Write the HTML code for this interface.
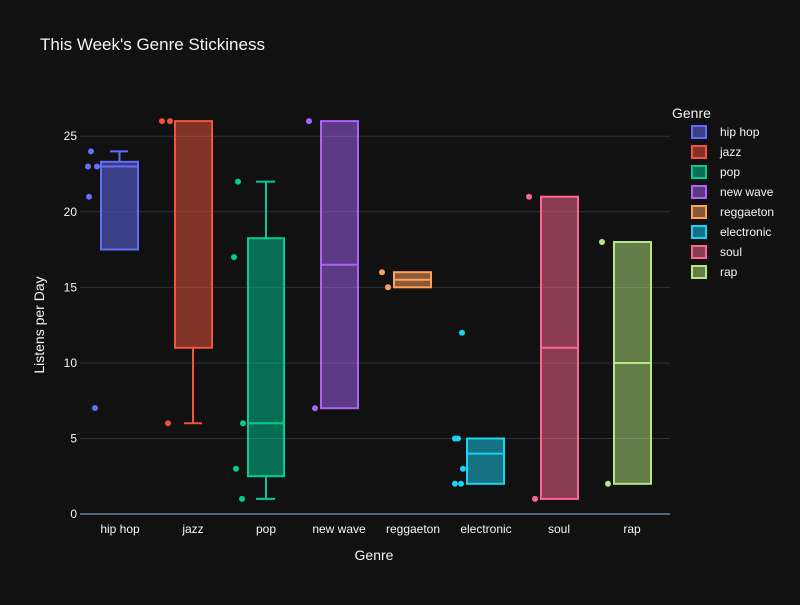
<!DOCTYPE html>
<html><head><meta charset="utf-8"><style>body{margin:0;background:#111}</style></head><body>
<svg width="800" height="600" xmlns="http://www.w3.org/2000/svg" font-family="Liberation Sans, sans-serif">
<rect width="800" height="600" fill="#111111"/>
<g stroke="#283442" stroke-width="1">
<line x1="80" x2="670" y1="438.5" y2="438.5"/>
<line x1="80" x2="670" y1="363" y2="363"/>
<line x1="80" x2="670" y1="287.4" y2="287.4"/>
<line x1="80" x2="670" y1="211.8" y2="211.8"/>
<line x1="80" x2="670" y1="136.2" y2="136.2"/>
</g>
<line x1="80" x2="670" y1="514" y2="514" stroke="#506784" stroke-width="2"/>
<g fill="#f2f5fa" font-size="12" text-anchor="end">
<text x="77" y="518">0</text><text x="77" y="442.5">5</text><text x="77" y="367">10</text>
<text x="77" y="291.4">15</text><text x="77" y="215.8">20</text><text x="77" y="140.2">25</text>
</g>
<g fill="#f2f5fa" font-size="12" text-anchor="middle">
<text x="120" y="533">hip hop</text><text x="193" y="533">jazz</text><text x="266" y="533">pop</text>
<text x="339" y="533">new wave</text><text x="413" y="533">reggaeton</text><text x="486" y="533">electronic</text>
<text x="559" y="533">soul</text><text x="632" y="533">rap</text>
</g>
<text x="40" y="50" fill="#f2f5fa" font-size="17">This Week's Genre Stickiness</text>
<text x="374" y="560" fill="#f2f5fa" font-size="14" text-anchor="middle">Genre</text>
<text transform="translate(44,325) rotate(-90)" fill="#f2f5fa" font-size="14" text-anchor="middle">Listens per Day</text>

<!-- hip hop -->
<g stroke="#636efa" stroke-width="2" fill="none">
<rect x="101" y="161.8" width="37" height="87.7" fill="#636efa" fill-opacity="0.5"/>
<line x1="101" x2="138" y1="166.5" y2="166.5"/>
<line x1="119.5" x2="119.5" y1="161.8" y2="151.4"/><line x1="110" x2="128" y1="151.4" y2="151.4"/>
</g>
<g fill="#636efa"><circle cx="91" cy="151.4" r="3"/><circle cx="88" cy="166.5" r="3"/><circle cx="97" cy="166.5" r="3"/><circle cx="89" cy="196.7" r="3"/><circle cx="95" cy="408" r="3"/></g>
<!-- jazz -->
<g stroke="#EF553B" stroke-width="2" fill="none">
<rect x="175" y="121.1" width="37" height="226.7" fill="#EF553B" fill-opacity="0.5"/>
<line x1="193" x2="193" y1="347.8" y2="423.3"/><line x1="184" x2="202" y1="423.3" y2="423.3"/>
</g>
<g fill="#EF553B"><circle cx="162" cy="121.1" r="3"/><circle cx="170" cy="121.1" r="3"/><circle cx="168" cy="423.3" r="3"/></g>
<!-- pop -->
<g stroke="#00cc96" stroke-width="2" fill="none">
<rect x="248" y="238.2" width="36" height="238" fill="#00cc96" fill-opacity="0.5"/>
<line x1="248" x2="284" y1="423.3" y2="423.3"/>
<line x1="266" x2="266" y1="238.2" y2="181.6"/><line x1="256" x2="275" y1="181.6" y2="181.6"/>
<line x1="266" x2="266" y1="476.2" y2="498.9"/><line x1="256" x2="275" y1="498.9" y2="498.9"/>
</g>
<g fill="#00cc96"><circle cx="238" cy="181.6" r="3"/><circle cx="234" cy="257.1" r="3"/><circle cx="243" cy="423.3" r="3"/><circle cx="236" cy="468.7" r="3"/><circle cx="242" cy="498.9" r="3"/></g>
<!-- new wave -->
<g stroke="#ab63fa" stroke-width="2" fill="none">
<rect x="321" y="121.1" width="37" height="287.1" fill="#ab63fa" fill-opacity="0.5"/>
<line x1="321" x2="358" y1="264.7" y2="264.7"/>
</g>
<g fill="#ab63fa"><circle cx="309" cy="121.1" r="3"/><circle cx="315" cy="408.2" r="3"/></g>
<!-- reggaeton -->
<g stroke="#FFA15A" stroke-width="2" fill="none">
<rect x="394" y="272.2" width="37" height="15.1" fill="#FFA15A" fill-opacity="0.5"/>
<line x1="394" x2="431" y1="279.8" y2="279.8"/>
</g>
<g fill="#FFA15A"><circle cx="382" cy="272.2" r="3"/><circle cx="388" cy="287.3" r="3"/></g>
<!-- electronic -->
<g stroke="#19d3f3" stroke-width="2" fill="none">
<rect x="467" y="438.5" width="37" height="45.3" fill="#19d3f3" fill-opacity="0.5"/>
<line x1="467" x2="504" y1="453.6" y2="453.6"/>
</g>
<g fill="#19d3f3"><circle cx="462" cy="332.7" r="3"/><circle cx="455" cy="438.5" r="3"/><circle cx="458" cy="438.5" r="3"/><circle cx="463" cy="468.7" r="3"/><circle cx="455" cy="483.8" r="3"/><circle cx="461" cy="483.8" r="3"/></g>
<!-- soul -->
<g stroke="#FF6692" stroke-width="2" fill="none">
<rect x="541" y="196.7" width="37" height="302.2" fill="#FF6692" fill-opacity="0.5"/>
<line x1="541" x2="578" y1="347.8" y2="347.8"/>
</g>
<g fill="#FF6692"><circle cx="529" cy="196.7" r="3"/><circle cx="535" cy="498.9" r="3"/></g>
<!-- rap -->
<g stroke="#B6E880" stroke-width="2" fill="none">
<rect x="614" y="242" width="37" height="241.8" fill="#B6E880" fill-opacity="0.5"/>
<line x1="614" x2="651" y1="363" y2="363"/>
</g>
<g fill="#B6E880"><circle cx="602" cy="242" r="3"/><circle cx="608" cy="483.8" r="3"/></g>

<!-- legend -->
<text x="672" y="118" fill="#f2f5fa" font-size="14">Genre</text>
<g font-size="12" fill="#f2f5fa" stroke-width="2">
<rect x="692" y="126" width="14" height="12" fill="#636efa" fill-opacity="0.5" stroke="#636efa"/><text x="720" y="136">hip hop</text>
<rect x="692" y="146" width="14" height="12" fill="#EF553B" fill-opacity="0.5" stroke="#EF553B"/><text x="720" y="156">jazz</text>
<rect x="692" y="166" width="14" height="12" fill="#00cc96" fill-opacity="0.5" stroke="#00cc96"/><text x="720" y="176">pop</text>
<rect x="692" y="186" width="14" height="12" fill="#ab63fa" fill-opacity="0.5" stroke="#ab63fa"/><text x="720" y="196">new wave</text>
<rect x="692" y="206" width="14" height="12" fill="#FFA15A" fill-opacity="0.5" stroke="#FFA15A"/><text x="720" y="216">reggaeton</text>
<rect x="692" y="226" width="14" height="12" fill="#19d3f3" fill-opacity="0.5" stroke="#19d3f3"/><text x="720" y="236">electronic</text>
<rect x="692" y="246" width="14" height="12" fill="#FF6692" fill-opacity="0.5" stroke="#FF6692"/><text x="720" y="256">soul</text>
<rect x="692" y="266" width="14" height="12" fill="#B6E880" fill-opacity="0.5" stroke="#B6E880"/><text x="720" y="276">rap</text>
</g>
</svg>
</body></html>
